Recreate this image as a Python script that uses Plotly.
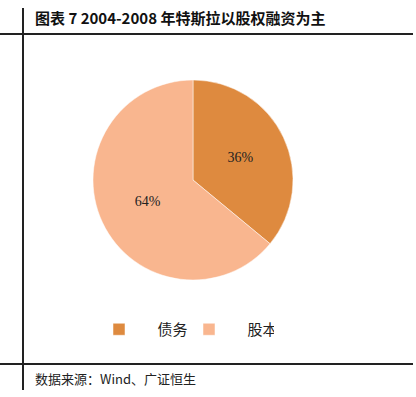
import plotly.graph_objects as go

labels = ["债务", "股本"]
values = [36, 64]
colors = ["#DE8A3F", "#F9B68F"]
title_text = "图表 7 2004-2008 年特斯拉以股权融资为主"
source_text = "数据来源：Wind、广证恒生"

W, H = 416, 397
def py(y):
    return 1 - y / H

fig = go.Figure(go.Pie(
    labels=["    " + l for l in labels],
    values=values,
    marker=dict(colors=colors, line=dict(color="white", width=0.5)),
    sort=False,
    direction="clockwise",
    rotation=0,
    textinfo="percent",
    texttemplate="%{percent:.0%}",
    textposition="inside",
    insidetextfont=dict(family="Liberation Serif, serif", size=14, color="#222222"),
    domain=dict(x=[93 / W, 293 / W], y=[py(280), py(80)]),
    hoverinfo="label+percent",
))

line = dict(color="#222222", width=2)
fig.update_layout(
    width=W, height=H,
    margin=dict(l=0, r=0, t=0, b=0),
    paper_bgcolor="white", plot_bgcolor="white",
    showlegend=True,
    legend=dict(orientation="h", x=94 / W, y=py(313), xanchor="left", yanchor="top",
                font=dict(family="Noto Sans CJK SC", size=15, color="#222222"),
                itemwidth=40, entrywidth=35, entrywidthmode="pixels",
                bgcolor="rgba(0,0,0,0)"),
    shapes=[
        dict(type="line", xref="paper", yref="paper", x0=23 / W, x1=23 / W, y0=py(8), y1=py(390), line=line),
        dict(type="line", xref="paper", yref="paper", x0=0, x1=413 / W, y0=py(34), y1=py(34), line=line),
        dict(type="line", xref="paper", yref="paper", x0=0, x1=413 / W, y0=py(364), y1=py(364), line=line),
    ],
    annotations=[
        dict(text="<b>" + title_text + "</b>", xref="paper", yref="paper", x=33 / W, y=py(18),
             xanchor="left", yanchor="middle", showarrow=False,
             font=dict(family="Noto Sans CJK SC", size=15, color="#111111")),
        dict(text=source_text, xref="paper", yref="paper", x=33 / W, y=py(378),
             xanchor="left", yanchor="middle", showarrow=False,
             font=dict(family="Noto Sans CJK SC", size=13, color="#222222")),
    ],
)

fig.write_html("out.html")
